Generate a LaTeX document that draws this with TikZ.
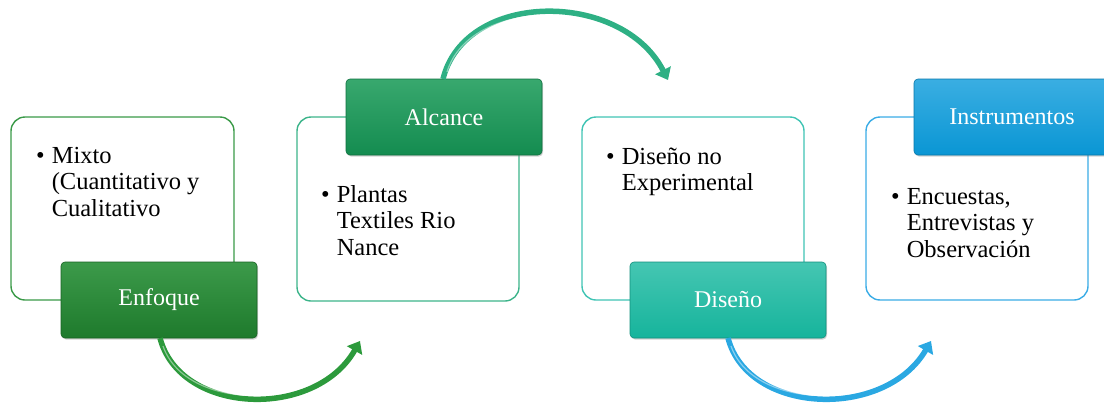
\documentclass[tikz,border=0pt]{standalone}
\usepackage{fontspec}
\setmainfont{Liberation Serif}
\usetikzlibrary{arrows.meta,shadows}
\definecolor{gA}{HTML}{1E7A2C}
\definecolor{gAl}{HTML}{3C9A4A}
\definecolor{gB}{HTML}{148C50}
\definecolor{gBl}{HTML}{38A86E}
\definecolor{gC}{HTML}{16B49C}
\definecolor{gCl}{HTML}{45C6B2}
\definecolor{gD}{HTML}{0A96D4}
\definecolor{gDl}{HTML}{3AAEE2}
\definecolor{bA}{HTML}{3A9A48}
\definecolor{bB}{HTML}{3CB48A}
\definecolor{bC}{HTML}{40C4B4}
\definecolor{bD}{HTML}{3AACE6}
\definecolor{aA}{HTML}{2C9A3C}
\definecolor{aB}{HTML}{2EB084}
\definecolor{aC}{HTML}{2AA8E2}
\tikzset{
  wbox/.style={draw=#1, line width=1.4pt, rounded corners=14pt, fill=white, inner sep=0pt},
  lbox/.style n args={2}{rounded corners=4pt, top color=#2, bottom color=#1, draw=#1!80!black, line width=0.6pt,
     text=white, font=\fontsize{24}{26}\selectfont, inner sep=0pt,
     drop shadow={shadow xshift=1pt, shadow yshift=-1.5pt, opacity=0.35}},
  btxt/.style={anchor=base west, inner sep=0pt, font=\fontsize{24.5}{26.5}\selectfont},
  carrow/.style={draw=#1, line width=5.5pt, -{Triangle[length=11pt,width=17pt]}},
  cin/.style={draw=white, opacity=0.45, line width=1.2pt},
}
\newcommand{\bl}[1]{\begin{tabular}[t]{@{}l@{\hspace{7pt}}l@{}}\textbullet & #1\end{tabular}}
\begin{document}
\begin{tikzpicture}[x=1pt,y=-1pt]
\useasboundingbox (0,0) rectangle (1104,402);
% white boxes
\node[wbox=bA, minimum width=223pt, minimum height=183pt] (w1) at (122.5,208.5) {};
\node[wbox=bB, minimum width=222pt, minimum height=184pt] (w2) at (408,209) {};
\node[wbox=bC, minimum width=222pt, minimum height=183pt] (w3) at (693,208.5) {};
\node[wbox=bD, minimum width=222pt, minimum height=183pt] (w4) at (977,208.5) {};
% texts
\node[btxt] (t1) at (36,163) {\bl{Mixto\\ & (Cuantitativo y\\ & Cualitativo}};
\node[btxt] (t2) at (321,202) {\bl{Plantas\\ & Textiles Rio\\ & Nance}};
\node[btxt] (t3) at (606,164) {\bl{Diseño no\\ & Experimental}};
\node[btxt] (t4) at (891,204) {\bl{Encuestas,\\ & Entrevistas y\\ & Observación}};
% label boxes
\node[lbox={gA}{gAl}, minimum width=196pt, minimum height=76pt] (l1) at (159,300) {Enfoque};
\node[lbox={gB}{gBl}, minimum width=196pt, minimum height=76pt] (l2) at (444,117) {Alcance};
\node[lbox={gC}{gCl}, minimum width=196pt, minimum height=76pt] (l3) at (728,300) {Diseño};
\node[lbox={gD}{gDl}, minimum width=196pt, minimum height=76pt] (l4) at (1012,117) {Instrumentos};
% arrows
\coordinate (e1) at (360,341);
\coordinate (e2) at (668,80);
\coordinate (e3) at (931,341);
\coordinate (s1) at (160,338);
\coordinate (s2) at (443,79);
\coordinate (s3) at (728,338);
\draw[carrow=aA] (s1) .. controls (180,415) and (315,420) .. (e1);
\draw[carrow=aB] (s2) .. controls (465,-10) and (622,-10) .. (e2);
\draw[carrow=aC] (s3) .. controls (748,415) and (885,420) .. (e3);
\draw[cin] (163,346) .. controls (185,410) and (310,412) .. (348,352);
\draw[cin] (447,72) .. controls (470,-3) and (615,-3) .. (658,70);
\draw[cin] (731,346) .. controls (753,410) and (880,412) .. (919,352);
\end{tikzpicture}
\end{document}
